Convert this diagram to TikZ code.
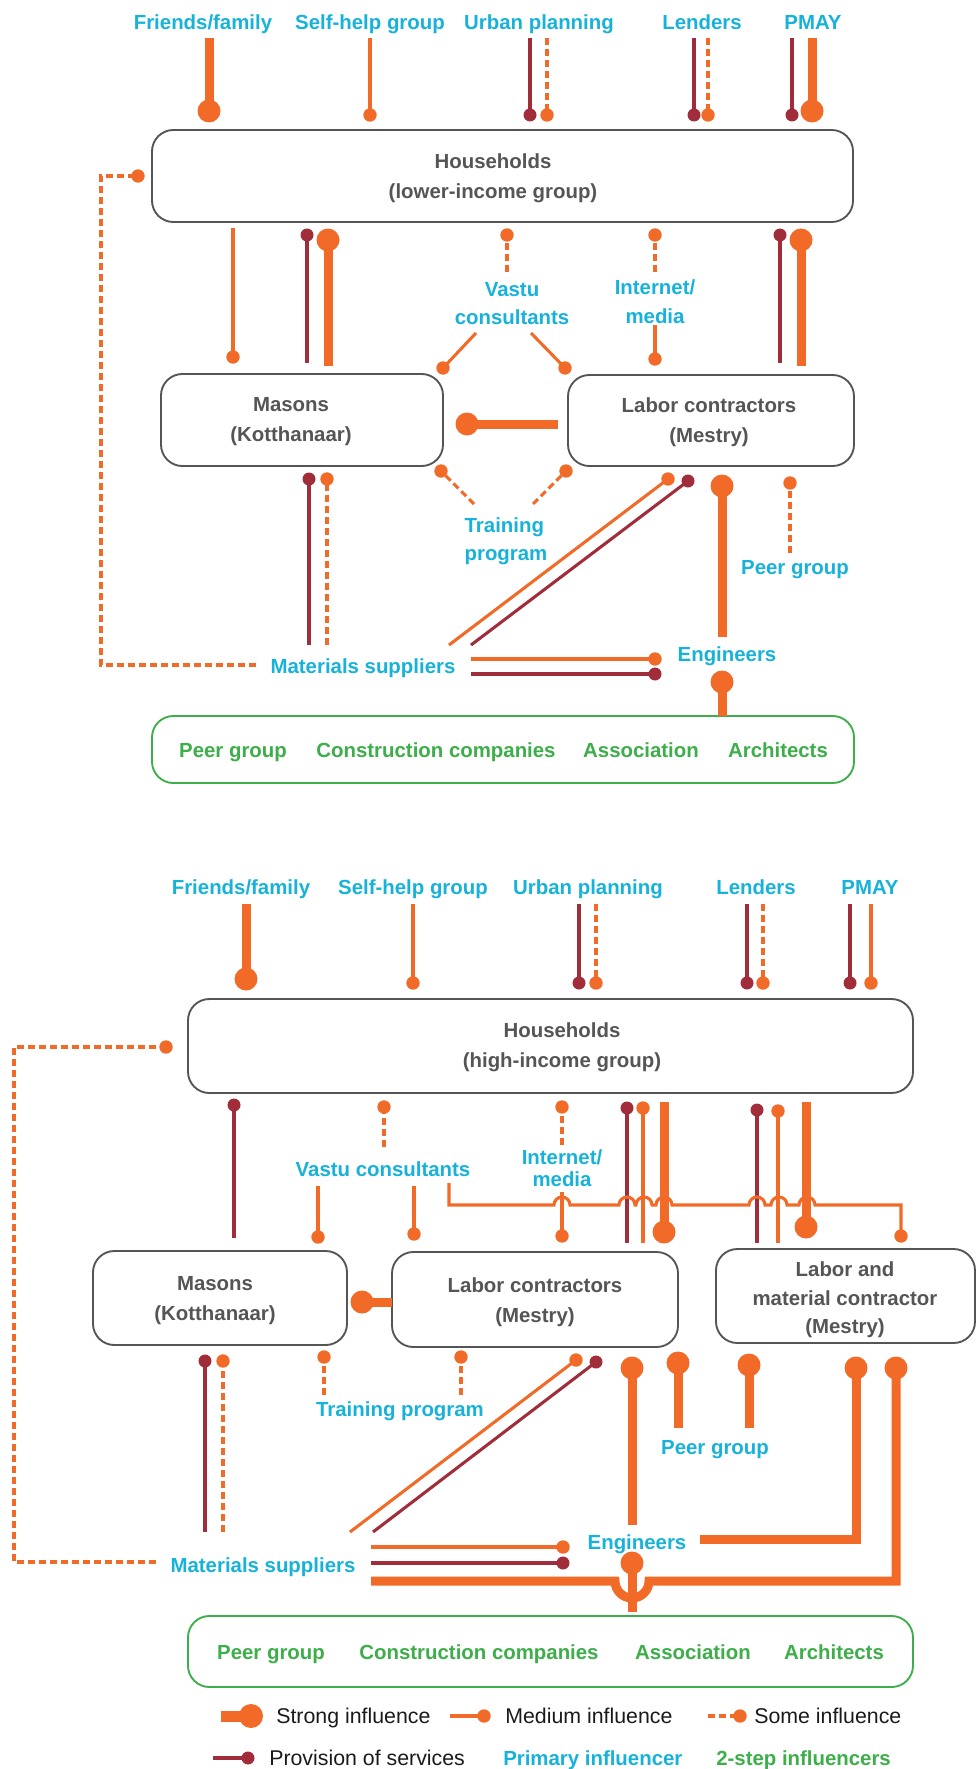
\documentclass[tikz,border=0pt]{standalone}
\usepackage{fontspec}
\setmainfont{Liberation Sans}
\definecolor{org}{RGB}{242,106,40}
\definecolor{mar}{RGB}{161,45,58}
\definecolor{blu}{RGB}{23,178,218}
\definecolor{grn}{RGB}{61,174,73}
\definecolor{gry}{RGB}{85,85,85}
\definecolor{ink}{RGB}{26,26,26}
\tikzset{
  strongl/.style={draw=org, line width=6.75pt},
  medl/.style={draw=org, line width=2.3pt},
  somel/.style={draw=org, line width=2.3pt, dash pattern=on 5.25pt off 3pt},
  servl/.style={draw=mar, line width=2.3pt},
  box/.style={draw=gry, line width=1.4pt, rounded corners=16pt, inner sep=0pt, fill=white},
  gbox/.style={box, draw=grn},
  boxtxt/.style={text=gry, font=\fontsize{15.3}{22.5}\selectfont\bfseries, align=center, inner sep=0pt},
  lab/.style={text=blu, font=\fontsize{15.3}{21}\selectfont\bfseries, align=center, inner sep=0pt},
  oneline/.style={text height=11pt, text depth=0pt},
  glab/.style={text=grn, font=\fontsize{15.3}{18}\selectfont\bfseries, inner sep=0pt, oneline},
  legtxt/.style={text=ink, font=\fontsize{16}{19}\selectfont, anchor=west, inner sep=0pt, text height=11.5pt, text depth=0pt},
}
% influence connectors: line from the first point, blob on the second
\newcommand\strongpin[2]{\draw[strongl] (#1) -- (#2); \fill[org] (#2) circle[radius=11.5];}
\newcommand\medpin[2]{\draw[medl] (#1) -- (#2); \fill[org] (#2) circle[radius=6.7];}
\newcommand\somepin[2]{\draw[somel] (#1) -- (#2); \fill[org] (#2) circle[radius=6.7];}
\newcommand\servpin[2]{\draw[servl] (#1) -- (#2); \fill[mar] (#2) circle[radius=6.5];}
\begin{document}
\begin{tikzpicture}[x=0.75pt,y=-0.75pt]
\useasboundingbox (0,0) rectangle (976,1769);

%% ---------------- lower-income group ----------------
\node[lab, oneline] (famA) at (203,22) {Friends/family};
\node[lab, oneline] (shgA) at (370,22) {Self-help group};
\node[lab, oneline] (urbA) at (539,22) {Urban planning};
\node[lab, oneline] (lenA) at (702,22) {Lenders};
\node[lab, oneline] (pmyA) at (813,22) {PMAY};

\node[box, minimum width=525.75pt, minimum height=69pt] (hhA) at (502.5,176) {};
\node[boxtxt] (hhAt) at (493,178) {Households\\(lower-income group)};
\node[box, minimum width=211.5pt, minimum height=69pt] (masA) at (302,420) {};
\node[boxtxt] (masAt) at (291,422) {Masons\\(Kotthanaar)};
\node[box, minimum width=214.5pt, minimum height=68.25pt] (labA) at (711,420.5) {};
\node[boxtxt] (labAt) at (709,422) {Labor contractors\\(Mestry)};
\node[gbox, minimum width=526.5pt, minimum height=50.25pt] (twoA) at (503,749.5) {};
\node[glab] (g1A) at (233,750) {Peer group};
\node[glab] (g2A) at (436,750) {Construction companies};
\node[glab] (g3A) at (641,750) {Association};
\node[glab] (g4A) at (778,750) {Architects};

\node[lab] (vasA) at (512,304) {Vastu\\consultants};
\node[lab, font=\fontsize{15.3}{22}\selectfont\bfseries] (intA) at (655,302) {Internet/\\media};
\node[lab, align=left] (trnA) at (506,541) {Training\\program};
\node[lab, oneline] (peerA) at (795,567) {Peer group};
\node[lab, oneline] (engA) at (727,654) {Engineers};
\node[lab, oneline] (matA) at (363,666) {Materials suppliers};

% primary influencers -> households
\strongpin{209,38}{209,111}
\medpin{370,38}{370,115}
\servpin{530,38}{530,115}
\somepin{547,38}{547,115}
\servpin{694,38}{694,115}
\somepin{708,38}{708,115}
\servpin{792,38}{792,115}
\strongpin{812,38}{812,111}

% materials suppliers -> households
\draw[somel] (256,665) -- (101,665) -- (101,176) -- (138,176);
\fill[org] (138,176) circle[radius=6.7];

% households <-> masons / labor contractors
\medpin{233,228}{233,357}
\servpin{307,363}{307,235}
\strongpin{328,366}{328,240}
\servpin{780,363}{780,235}
\strongpin{801,366}{801,240}

% vastu, internet
\somepin{507,272}{507,235}
\medpin{476,333}{443,368}
\medpin{531,333}{565,368}
\somepin{655,272}{655,235}
\medpin{655,325}{655,359}

% labor contractors -> masons
\strongpin{558,424}{467,424}

% below masons / labor contractors
\servpin{309,645}{309,479}
\somepin{327,645}{327,479}
\somepin{474,504}{441,471}
\somepin{533,504}{566,471}
\medpin{449,645}{668,479}
\servpin{471,645}{688,481}
\strongpin{722,637}{722,486}
\somepin{790,553}{790,483}
\medpin{471,659}{655,659}
\servpin{471,674}{655,674}
\strongpin{722,716}{722,682}

%% ---------------- high-income group ----------------
\node[lab, oneline] (famB) at (241,887) {Friends/family};
\node[lab, oneline] (shgB) at (413,887) {Self-help group};
\node[lab, oneline] (urbB) at (588,887) {Urban planning};
\node[lab, oneline] (lenB) at (756,887) {Lenders};
\node[lab, oneline] (pmyB) at (870,887) {PMAY};

\node[box, minimum width=543.75pt, minimum height=70.5pt] (hhB) at (550.5,1046) {};
\node[boxtxt] (hhBt) at (562,1047) {Households\\(high-income group)};
\node[box, minimum width=190.5pt, minimum height=70.5pt] (masB) at (220,1298) {};
\node[boxtxt] (masBt) at (215,1301) {Masons\\(Kotthanaar)};
\node[box, minimum width=214.5pt, minimum height=71.25pt] (labB) at (535,1299.5) {};
\node[boxtxt] (labBt) at (535,1302) {Labor contractors\\(Mestry)};
\node[box, minimum width=194.25pt, minimum height=70.5pt] (lmcB) at (845.5,1296) {};
\node[boxtxt, font=\fontsize{15.3}{21.4}\selectfont\bfseries] (lmcBt) at (845,1300) {Labor and\\material contractor\\(Mestry)};
\node[gbox, minimum width=543.75pt, minimum height=53.25pt] (twoB) at (550.5,1651.5) {};
\node[glab] (g1B) at (271,1652) {Peer group};
\node[glab] (g2B) at (479,1652) {Construction companies};
\node[glab] (g3B) at (693,1652) {Association};
\node[glab] (g4B) at (834,1652) {Architects};

\node[lab, oneline] (vasB) at (383,1169) {Vastu consultants};
\node[lab, font=\fontsize{15.3}{16.5}\selectfont\bfseries] (intB) at (562,1168) {Internet/\\media};
\node[lab, oneline] (trnB) at (400,1409) {Training program};
\node[lab, oneline] (peerB) at (715,1447) {Peer group};
\node[lab, oneline] (engB) at (637,1542) {Engineers};
\node[lab, oneline] (matB) at (263,1565) {Materials suppliers};

% primary influencers -> households
\strongpin{246,904}{246,979}
\medpin{413,904}{413,983}
\servpin{579,904}{579,983}
\somepin{596,904}{596,983}
\servpin{747,904}{747,983}
\somepin{763,904}{763,983}
\servpin{850,904}{850,983}
\medpin{871,904}{871,983}

% materials suppliers -> households
\draw[somel] (156,1562) -- (14,1562) -- (14,1047) -- (166,1047);
\fill[org] (166,1047) circle[radius=6.7];

% households <-> masons / contractors
\servpin{234,1238}{234,1105}
\servpin{627,1243}{627,1108}
\medpin{643,1243}{643,1108}
\strongpin{664,1102}{664,1232}
\servpin{757,1243}{757,1110}
\medpin{778,1243}{778,1111}
\strongpin{806,1102}{806,1227}

% vastu consultants
\somepin{384,1147}{384,1107}
\medpin{318,1186}{318,1237}
\medpin{414,1186}{414,1234}
\draw[medl] (449,1183) -- (449,1205)
  -- (554,1205) arc[start angle=180, end angle=360, radius=8]
  -- (619,1205) arc[start angle=180, end angle=360, radius=8]
  -- (636,1205) arc[start angle=180, end angle=360, radius=8]
  -- (656,1205) arc[start angle=180, end angle=360, radius=8]
  -- (749,1205) arc[start angle=180, end angle=360, radius=8]
  -- (771,1205) arc[start angle=180, end angle=360, radius=8]
  -- (799,1205) arc[start angle=180, end angle=360, radius=8]
  -- (901,1205) -- (901,1236);
\fill[org] (901,1236) circle[radius=6.7];

% internet / media
\somepin{562,1145}{562,1107}
\medpin{562,1192}{562,1236}

% labor contractors -> masons
\strongpin{392,1302}{362,1302}

% below masons / contractors
\servpin{205,1532}{205,1361}
\somepin{223,1532}{223,1361}
\somepin{324,1395}{324,1357}
\somepin{461,1395}{461,1357}
\medpin{350,1532}{576,1360}
\servpin{373,1532}{596,1362}
\strongpin{632,1525}{632,1368}
\strongpin{678,1428}{678,1363}
\strongpin{749,1428}{749,1365}

% engineers -> labor and material contractor
\draw[strongl] (700,1539) -- (856,1539) -- (856,1368);
\fill[org] (856,1368) circle[radius=11.5];
% materials suppliers -> labor and material contractor
\draw[strongl] (371,1581) -- (615,1581)
  arc[start angle=180, end angle=0, radius=17] -- (896,1581) -- (896,1368);
\fill[org] (896,1368) circle[radius=11.5];
% 2-step influencers -> engineers
\strongpin{632,1612}{632,1563}
% materials suppliers -> engineers
\medpin{371,1547}{563,1547}
\servpin{371,1563}{563,1563}

%% ---------------- legend ----------------
\draw[org, line width=8.25pt] (221,1716) -- (251,1716);
\fill[org] (251,1716) circle[radius=12];
\node[legtxt] (lg1) at (276,1716) {Strong influence};
\medpin{450,1716}{484,1716}
\node[legtxt] (lg2) at (505,1716) {Medium influence};
\somepin{708,1716}{740,1716}
\node[legtxt] (lg3) at (754,1716) {Some influence};
\servpin{213,1758}{248,1758}
\node[legtxt] (lg4) at (269,1758) {Provision of services};
\node[lab, oneline, anchor=west] (lg5) at (503,1758) {Primary influencer};
\node[glab, anchor=west] (lg6) at (716,1758) {2-step influencers};
\end{tikzpicture}
\end{document}
